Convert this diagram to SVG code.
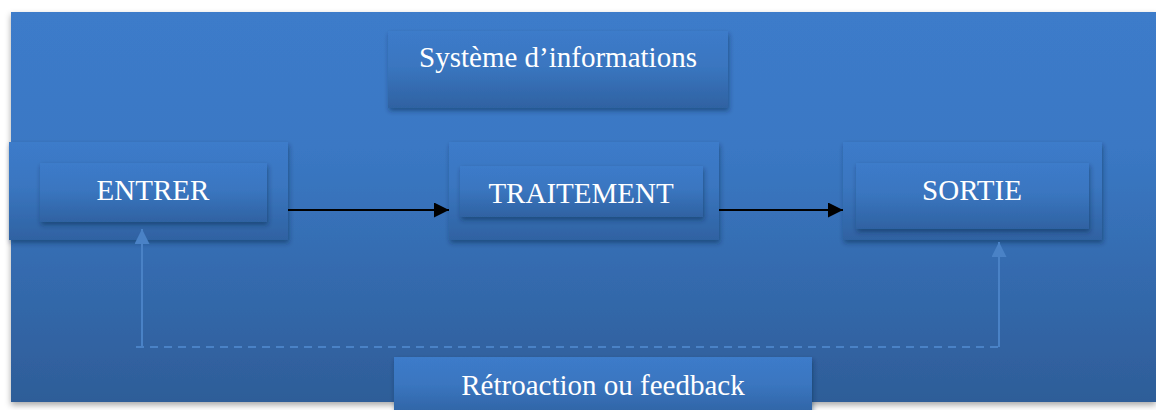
<svg xmlns="http://www.w3.org/2000/svg" width="1156" height="410" viewBox="0 0 1156 410">
<defs>
<linearGradient id="bg" x1="0" y1="0" x2="0" y2="1">
<stop offset="0" stop-color="#3c7bca"/>
<stop offset="0.35" stop-color="#3a78c4"/>
<stop offset="1" stop-color="#2e5d98"/>
</linearGradient>
<linearGradient id="box" x1="0" y1="0" x2="0" y2="1">
<stop offset="0" stop-color="#3c7bca"/>
<stop offset="0.45" stop-color="#3a76c0"/>
<stop offset="1" stop-color="#2f62a2"/>
</linearGradient>
<filter id="sh" x="-10%" y="-20%" width="120%" height="150%">
<feDropShadow dx="1" dy="3" stdDeviation="2.5" flood-color="#0c2040" flood-opacity="0.45"/>
</filter>
<filter id="shbg" x="-5%" y="-5%" width="110%" height="110%">
<feDropShadow dx="0" dy="3" stdDeviation="3" flood-color="#000" flood-opacity="0.35"/>
</filter>
<marker id="ah" viewBox="0 0 10 10" refX="10" refY="5" markerWidth="15" markerHeight="15" markerUnits="userSpaceOnUse" orient="auto">
<path d="M0,0 L10,5 L0,10 z" fill="#000"/>
</marker>
<marker id="fh" viewBox="0 0 10 10" refX="10" refY="5" markerWidth="15" markerHeight="15" markerUnits="userSpaceOnUse" orient="auto">
<path d="M0,0 L10,5 L0,10 z" fill="#4a82c6"/>
</marker>
</defs>
<style>
.bx{fill:url(#box);filter:url(#sh);}
.t{font-family:"Liberation Serif","Times New Roman",serif;font-size:29px;fill:#ffffff;text-anchor:middle;}
.arr{stroke:#000;stroke-width:2;fill:none;marker-end:url(#ah);}
.fb{stroke:#4a82c6;stroke-width:2;fill:none;}
</style>
<rect x="0" y="0" width="1156" height="410" fill="#ffffff"/>
<rect id="background" x="11" y="12" width="1145" height="390" fill="url(#bg)" filter="url(#shbg)"/>

<g id="systeme">
<rect class="bx" x="388" y="31" width="340" height="77"/>
<text class="t" x="558" y="67">Système d’informations</text>
</g>

<g id="entrer">
<rect class="bx" x="9" y="142" width="279" height="98"/>
<rect class="bx" x="40" y="163" width="227" height="59"/>
<text class="t" x="153" y="200">ENTRER</text>
</g>

<g id="traitement">
<rect class="bx" x="449" y="142" width="270" height="98"/>
<rect class="bx" x="460" y="166" width="243" height="51"/>
<text class="t" x="581" y="203">TRAITEMENT</text>
</g>

<g id="sortie">
<rect class="bx" x="843" y="142" width="259" height="98"/>
<rect class="bx" x="856" y="163" width="233" height="66"/>
<text class="t" x="972" y="200">SORTIE</text>
</g>

<g id="connectors">
<line class="arr" x1="288" y1="210" x2="449" y2="210"/>
<line class="arr" x1="719" y1="210" x2="843" y2="210"/>
<path class="fb" d="M142,347 L142,229" marker-end="url(#fh)"/>
<path class="fb" d="M999,347 L999,242" marker-end="url(#fh)"/>
<line class="fb" x1="136" y1="347" x2="999" y2="347" stroke-dasharray="8 6"/>
</g>

<g id="feedback">
<rect class="bx" x="394" y="357" width="418" height="60"/>
<text class="t" x="603" y="395">Rétroaction ou feedback</text>
</g>
</svg>
